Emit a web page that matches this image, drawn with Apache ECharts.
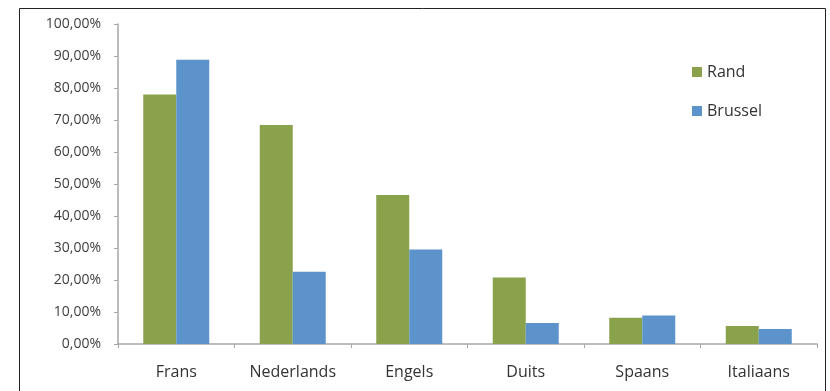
<!DOCTYPE html>
<html>
<head>
<meta charset="utf-8">
<script src="https://cdn.jsdelivr.net/npm/echarts@6/dist/echarts.min.js"></script>
<style>
html,body{margin:0;padding:0;background:#fff;}
#c{width:830px;height:391px;}
</style>
</head>
<body>
<div id="c"></div>
<script>
const categories = ['Frans', 'Nederlands', 'Engels', 'Duits', 'Spaans', 'Italiaans'];
const rand = [78.0, 68.4, 46.6, 20.8, 8.2, 5.6];
const brussel = [88.8, 22.6, 29.5, 6.6, 8.9, 4.7];
const seriesNames = ['Rand', 'Brussel'];

const chart = echarts.init(document.getElementById('c'), null, {renderer: 'canvas'});
const FONT = '"Open Sans", sans-serif';
chart.setOption({
  animation: false,
  backgroundColor: '#fff',
  graphic: [{
    type: 'rect',
    shape: {x: 19.5, y: 8.5, width: 806, height: 400},
    style: {fill: 'none', stroke: '#222', lineWidth: 1},
    silent: true
  }],
  grid: {left: 118, right: 13, top: 24, bottom: 47},
  legend: {
    orient: 'vertical',
    left: 687,
    top: 59,
    itemWidth: 10,
    itemHeight: 10,
    itemGap: 23,
    icon: 'rect',
    textStyle: {fontFamily: FONT, fontSize: 16, color: '#333'},
    data: seriesNames
  },
  xAxis: {
    type: 'category',
    data: categories,
    axisLine: {lineStyle: {color: '#A6A6A6', width: 1.5}},
    axisTick: {show: true, length: 4, lineStyle: {color: '#A6A6A6'}},
    axisLabel: {fontFamily: FONT, fontSize: 16, color: '#333', margin: 20}
  },
  yAxis: {
    type: 'value',
    min: 0,
    max: 100,
    interval: 10,
    splitLine: {show: false},
    axisLine: {show: true, lineStyle: {color: '#A6A6A6', width: 1.5}},
    axisTick: {show: true, length: 4, lineStyle: {color: '#A6A6A6'}},
    axisLabel: {
      fontFamily: FONT, fontSize: 14, color: '#404040', margin: 17,
      formatter: v => v.toFixed(2).replace('.', ',') + '%'
    }
  },
  series: [
    {name: seriesNames[0], type: 'bar', data: rand, barWidth: 33, barGap: '0%',
     itemStyle: {color: '#8AA24B'}},
    {name: seriesNames[1], type: 'bar', data: brussel, barWidth: 33, barGap: '0%',
     itemStyle: {color: '#5C93CB'}}
  ]
});
</script>
</body>
</html>
